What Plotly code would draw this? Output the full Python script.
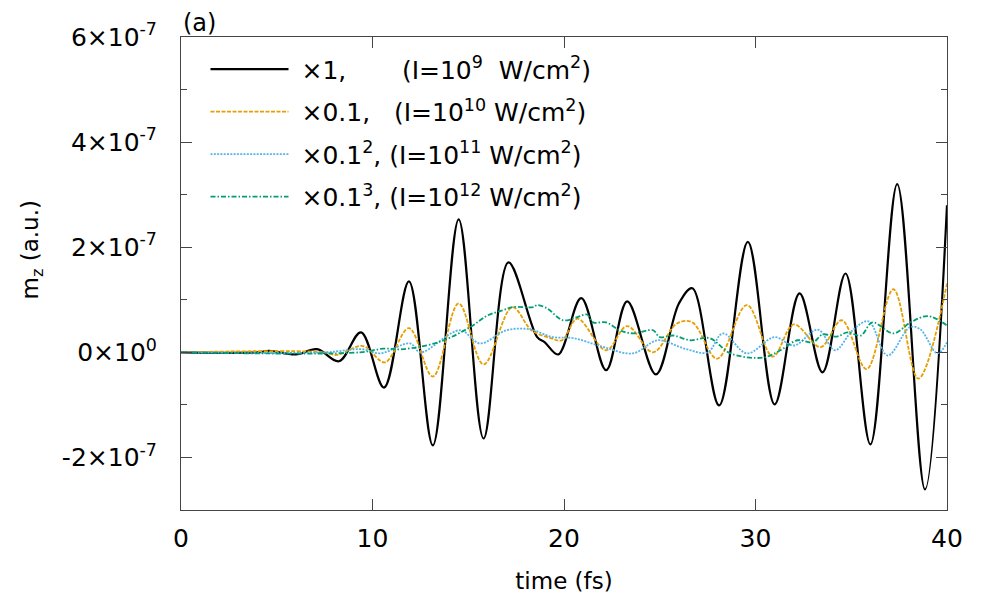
import plotly.graph_objects as go

# m_z values are read in units of 1e-7 a.u.; time in fs
SCALE = 1e-7

t_x1 = [0, 4.0, 4.6, 6.0, 7.1, 8.25, 9.4, 10.6, 11.9, 13.15, 14.5, 15.8, 17.1, 18.6, 19.0,
        19.7, 20.9, 22.2, 23.3, 24.8, 26.0, 26.7, 28.1, 29.6, 31.0, 32.3, 33.5, 34.7, 36.0,
        37.4, 38.85, 40]
mz_x1 = [0, 0, 0.03, -0.04, 0.06, -0.17, 0.38, -0.67, 1.35, -1.77, 2.53, -1.64, 1.71, 0.29, 0.19,
         -0.04, 1.03, -0.34, 0.97, -0.42, 0.93, 1.22, -1.01, 2.10, -0.99, 1.12, -0.38, 1.50, -1.75,
         3.20, -2.61, 2.80]

t_x01 = [0, 7.5, 8.1, 9.5, 10.65, 11.9, 13.15, 14.5, 15.8, 17.3, 18.3, 19.3, 19.9, 20.7, 22.2,
         23.3, 24.65, 25.9, 26.7, 28.0, 29.55, 30.9, 32.0, 33.4, 34.5, 35.8, 37.2, 38.5, 40]
mz_x01 = [0, 0, -0.05, 0.12, -0.19, 0.46, -0.46, 0.93, -0.23, 0.86, 0.42, 0.27, 0.23, 0.64, 0.04,
          0.50, 0.0, 0.55, 0.57, -0.12, 0.90, -0.08, 0.53, 0.10, 0.61, -0.32, 1.20, -0.50, 1.31]

t_x001 = [0, 7.5, 9.45, 10.4, 11.96, 12.5, 14.57, 15.61, 17.0, 18.2, 19.4, 20.5, 21.9, 23.6,
          24.9, 26.3, 27.5, 28.3, 29.55, 31.0, 32.0, 33.26, 34.15, 35.1, 35.9, 36.9, 38.07,
          38.6, 39.5, 40]
mz_x001 = [0, 0, 0.06, -0.02, 0.17, 0.0, 0.42, 0.17, 0.42, 0.44, 0.29, 0.27, 0.12, -0.02,
           0.23, 0.07, 0.0, 0.36, -0.02, 0.29, 0.13, 0.43, 0.04, 0.43, 0.59, -0.06, 0.48,
           0.44, -0.02, 0.19]

t_x0001 = [0, 9.35, 10.55, 11.6, 13.5, 15.1, 16.0, 16.8, 17.3, 18.4, 18.6, 19.1, 19.95, 20.7,
           21.2, 21.5, 22.2, 22.9, 23.6, 24.65, 25.0, 25.7, 26.6, 27.6, 28.7, 30.4, 31.3, 32.2,
           33.0, 33.5, 34.25, 34.8, 35.5, 36.1, 37.2, 38.1, 39.0, 40]
mz_x0001 = [0, 0, 0.07, 0.06, 0.20, 0.48, 0.70, 0.80, 0.86, 0.86, 0.90, 0.84, 0.61, 0.67,
            0.72, 0.57, 0.57, 0.42, 0.36, 0.42, 0.29, 0.32, 0.23, 0.27, -0.02, -0.10, 0.04, 0.23,
            0.19, 0.34, 0.30, 0.38, 0.32, 0.57, 0.36, 0.57, 0.69, 0.51]

y_tickvals = [-2, 0, 2, 4, 6]
y_ticktext = ["-2×10<sup>-7</sup>", "0×10<sup>0</sup>", "2×10<sup>-7</sup>",
              "4×10<sup>-7</sup>", "6×10<sup>-7</sup>"]

NB = "\u00a0"
series = [
    (t_x1, mz_x1, NB + "×1," + NB * 7 + "(I=10<sup>9</sup>" + NB * 2 + "W/cm<sup>2</sup>)",
     dict(color="black", width=2.2)),
    (t_x01, mz_x01, NB + "×0.1," + NB * 3 + "(I=10<sup>10</sup> W/cm<sup>2</sup>)",
     dict(color="#E69F00", width=1.8, dash="4px,1.5px")),
    (t_x001, mz_x001, NB + "×0.1<sup>2</sup>, (I=10<sup>11</sup> W/cm<sup>2</sup>)",
     dict(color="#56B4E9", width=1.8, dash="2px,1.3px")),
    (t_x0001, mz_x0001, NB + "×0.1<sup>3</sup>, (I=10<sup>12</sup> W/cm<sup>2</sup>)",
     dict(color="#009E73", width=1.8, dash="5px,2px,1.5px,2px")),
]

FONT = "DejaVu Sans"

fig = go.Figure()
for i, (t, v, name, line) in enumerate(series):
    fig.add_trace(go.Scatter(
        x=t, y=[val * SCALE for val in v], mode="lines", name=name,
        line=dict(shape="spline", smoothing=1.0, **line),
        legendgroup=str(i),
    ))

axis_style = dict(
    showline=True, linecolor="#444", linewidth=1, mirror="allticks",
    ticks="inside", tickcolor="#444", tickwidth=1, ticklen=11,
    showgrid=False, zeroline=False,
    tickfont=dict(family=FONT, size=25, color="black"),
)

fig.update_xaxes(range=[0, 40], tickvals=[0, 10, 20, 30, 40],
                 title=dict(text="time (fs)", font=dict(family=FONT, size=23, color="black"),
                            standoff=20),
                 ticklabelstandoff=6, **axis_style)
fig.update_yaxes(range=[-3 * SCALE, 6 * SCALE],
                 tickvals=[v * SCALE for v in y_tickvals], ticktext=y_ticktext,
                 minor=dict(dtick=SCALE, ticklen=6, tickcolor="#444", ticks="inside"),
                 ticklabelstandoff=18, **axis_style)

fig.add_annotation(text="m<sub>z</sub> (a.u.)", textangle=-90, xref="paper", yref="paper",
                   x=-0.195, y=0.55, xanchor="center", yanchor="middle", showarrow=False,
                   font=dict(family=FONT, size=23, color="black"))
fig.add_annotation(text="(a)", xref="paper", yref="paper", x=0, y=1.0, xanchor="left",
                   yanchor="bottom", showarrow=False, yshift=-2,
                   font=dict(family=FONT, size=24, color="black"))

fig.update_layout(
    width=997, height=599,
    margin=dict(l=173, r=58, t=29, b=97),
    plot_bgcolor="white", paper_bgcolor="white",
    font=dict(family=FONT, color="black"),
    legend=dict(x=0.032, y=0.98, xanchor="left", yanchor="top", bgcolor="rgba(0,0,0,0)",
                font=dict(family=FONT, size=25, color="black"),
                itemwidth=78, tracegroupgap=7, traceorder="grouped"),
)

fig.write_html("out.html")
